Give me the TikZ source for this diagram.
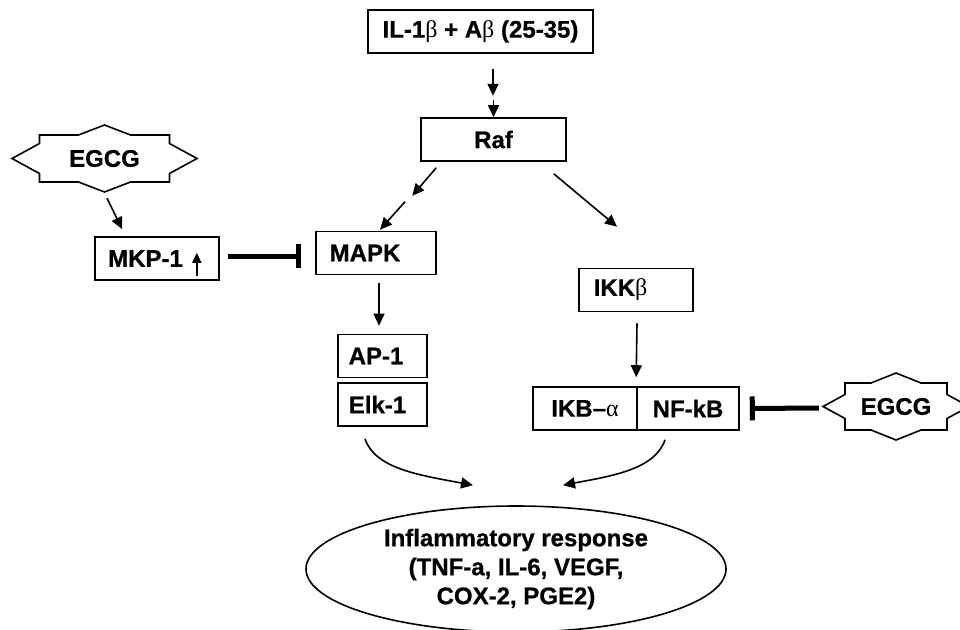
\documentclass[tikz,border=0pt]{standalone}
\usepackage{fontspec}
\setmainfont{Liberation Sans}[BoldFeatures={FakeBold=0.8}]
\newfontfamily\grk{Liberation Serif}
\usetikzlibrary{arrows.meta,shapes.geometric,calc}
\begin{document}
\begin{tikzpicture}[x=1pt,y=-1pt,
  lbl/.style={font=\fontsize{24}{29}\selectfont\bfseries},
  box/.style={lbl,draw,line width=1.6pt,inner sep=0pt,minimum height=43pt},
  arr/.style={line width=1.6pt,-{Triangle[length=12pt,width=11pt]}},
  inh/.style={line width=5pt,-{Bar[width=24pt,line width=5pt]}},
  starline/.style={line width=1.6pt,fill=white,line join=miter},
]
\useasboundingbox (0,0) rectangle (960,629);
\fill[white] (0,0) rectangle (960,629);
\clip (0,0) rectangle (960,629);

% boxes
\node[box,minimum width=225pt] (top) at (480.5,31.5) {IL-1{\grk\mdseries β} + A{\grk\mdseries β} (25-35)};
\node[box,minimum width=145pt] (raf) at (493.5,139.5) {Raf};
\node[box,minimum width=120pt] (mapk) at (376,253) {MAPK\rule{22pt}{0pt}};
\node[box,minimum width=124pt] (mkp) at (157,258.5) {MKP-1\rule{23pt}{0pt}};
\node[box,minimum width=114pt] (ikk) at (636,290) {IKK{\grk\mdseries β}\rule{31pt}{0pt}};
\node[box,minimum width=89pt] (ap1) at (382.5,356) {AP-1\rule{13pt}{0pt}};
\node[box,minimum width=89pt] (elk) at (382.5,404.5) {Elk-1\rule{10pt}{0pt}};
\node[box,minimum width=104pt] (ikb) at (585,408.5) {IKB–{\grk\mdseries α}};
\node[box,minimum width=102pt] (nfkb) at (688,408.5) {NF-kB};

% ellipse
\node[lbl,draw,ellipse,line width=1.6pt,minimum width=420pt,minimum height=126pt,inner sep=0pt,align=center] (inf) at (516,569)
  {Inflammatory response\\(TNF-a, IL-6, VEGF,\\COX-2, PGE2)};

% EGCG stars
\draw[starline,shift={(104.5,158.5)}] (-65,-23.5) -- (-26,-23.5) -- (0,-33.5) -- (26,-23.5) -- (65,-23.5) -- (65,-15) -- (92.5,0) -- (65,15) -- (65,23.5) -- (26,23.5) -- (0,33.5) -- (-26,23.5) -- (-65,23.5) -- (-65,15) -- (-92.5,0) -- (-65,-15) -- cycle;
\node[lbl,inner sep=0pt,minimum width=185pt,minimum height=67pt] (eg1) at (104.5,158.5) {EGCG};

\draw[starline,shift={(896,406.5)}] (-51,-23.5) -- (-25,-23.5) -- (0,-33.5) -- (25,-23.5) -- (51,-23.5) -- (51,-12) -- (73,0) -- (51,12) -- (51,23.5) -- (25,23.5) -- (0,33.5) -- (-25,23.5) -- (-51,23.5) -- (-51,12) -- (-73,0) -- (-51,-12) -- cycle;
\node[lbl,inner sep=0pt,minimum width=146pt,minimum height=67pt] (eg2) at (896,406.5) {EGCG};

% arrows
\draw[arr] ($(top.south)+(12.5,15)$) -- ($(top.south)+(12.5,42)$);
\draw[arr] ($(raf.north)+(0,-17)$) -- (raf.north);
\draw[arr] ($(raf.south west)+(16,6)$) -- ($(raf.south west)+(-8,34)$);
\draw[arr] ($(mapk.north)+(29,-29)$) -- ($(mapk.north)+(4,-1)$);
\draw[arr] ($(raf.south east)+(-13,12)$) -- ($(ikk.north)+(-19,-41)$);
\draw[arr] ($(mapk.south)+(3,8)$) -- ($(ap1.north)+(-3.5,-8)$);
\draw[arr] ($(ikk.south)+(1,11)$) -- ($(nfkb.north west)+(0,-9)$);
\draw[arr] ($(eg1.south)+(2.5,6)$) -- ($(mkp.north west)+(28,-7)$);
\draw[line width=1.6pt,-{Triangle[length=10pt,width=9pt]}] ($(mkp.south east)+(-23,-5)$) -- ($(mkp.south east)+(-23,-28)$);

% inhibitions
\draw[inh] ($(mkp.east)+(8,-2.5)$) -- ($(mapk.west)+(-14,3)$);
\draw[inh] ($(eg2.west)+(-4,1.5)$) -- ($(nfkb.east)+(10,0)$);

% curved arrows to response
\draw[arr] ($(elk.south)+(-17.5,12)$) .. controls +(10,30) and +(-53,-10) .. ($(inf.north)+(-43,-20)$);
\draw[arr] ($(nfkb.south)+(-23,9)$) .. controls +(-10,30) and +(47,-9) .. ($(inf.north)+(47,-20)$);
\end{tikzpicture}
\end{document}
